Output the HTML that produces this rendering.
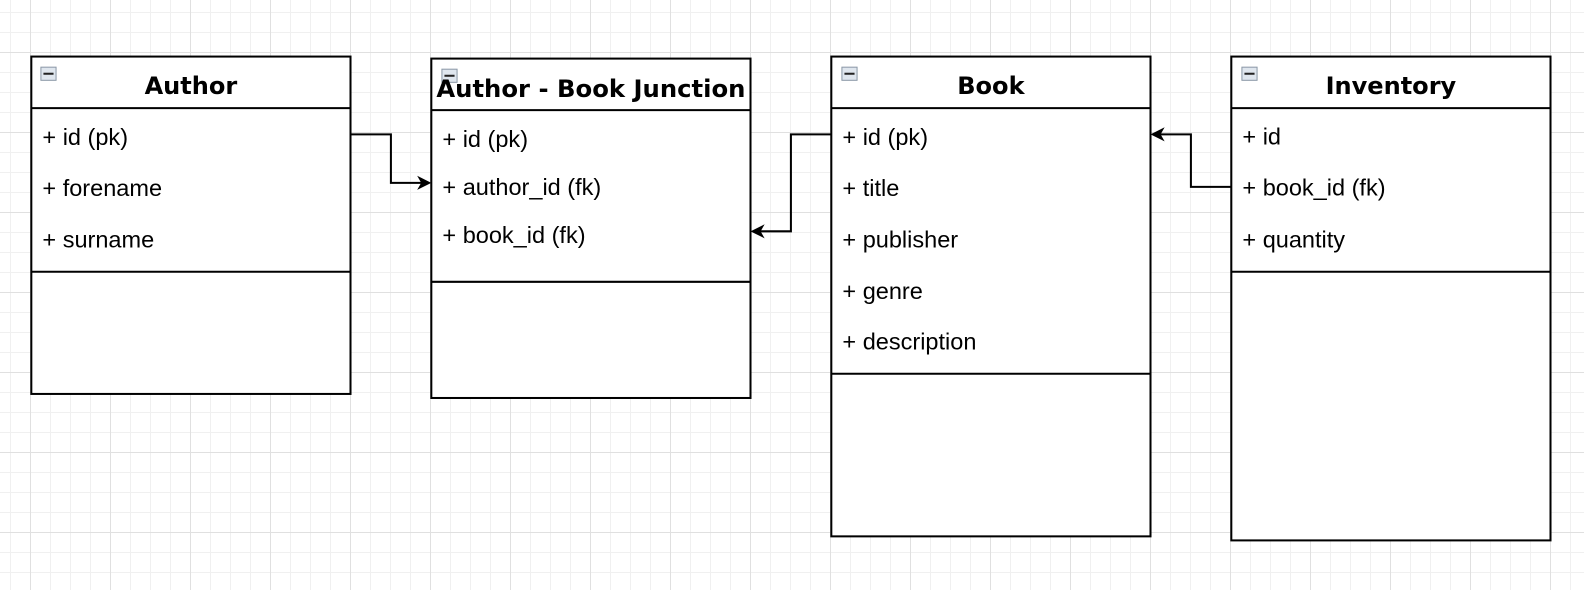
<!DOCTYPE html>
<html><head><meta charset="utf-8"><style>html,body{margin:0;padding:0;background:#fff}svg{display:block}</style></head>
<body>
<svg width="1584" height="590" xmlns="http://www.w3.org/2000/svg">
<defs>
<pattern id="minor" width="20" height="20" patternUnits="userSpaceOnUse" x="10" y="12">
<path d="M0 0.5H20M0.5 0V20" stroke="#f0f0f0" stroke-width="1" fill="none"/></pattern>
<pattern id="major" width="80" height="80" patternUnits="userSpaceOnUse" x="30" y="52">
<path d="M0 0.5H80M0.5 0V80" stroke="#e0e0e0" stroke-width="1" fill="none"/></pattern>
<g id="ic"><rect x="0.5" y="0.5" width="15" height="13" fill="#dfe6ee" stroke="#8a97a6"/><rect x="3" y="6" width="10" height="2" fill="#222"/></g>
</defs>
<rect width="1584" height="590" fill="url(#minor)"/>
<rect width="1584" height="590" fill="url(#major)"/>
<g transform="scale(1.0101)">
<g fill="#fff" stroke="#000" stroke-width="2">
<rect x="31" y="56" width="316" height="334"/>
<rect x="427" y="58" width="316" height="336"/>
<rect x="823" y="56" width="316" height="475"/>
<rect x="1219" y="56" width="316" height="479"/>
</g>
<g stroke="#000" stroke-width="2">
<line x1="31" y1="107" x2="347" y2="107"/><line x1="31" y1="269" x2="347" y2="269"/>
<line x1="427" y1="109" x2="743" y2="109"/><line x1="427" y1="279" x2="743" y2="279"/>
<line x1="823" y1="107" x2="1139" y2="107"/><line x1="823" y1="370" x2="1139" y2="370"/>
<line x1="1219" y1="107" x2="1535" y2="107"/><line x1="1219" y1="269" x2="1535" y2="269"/>
</g>
<use href="#ic" x="40" y="66"/><use href="#ic" x="437" y="68"/><use href="#ic" x="833" y="66"/><use href="#ic" x="1229" y="66"/>
<g font-family="DejaVu Sans, sans-serif" font-weight="bold" font-size="23.8" text-anchor="middle" fill="#000">
<text x="189" y="93">Author</text>
<text x="585" y="96" textLength="306" lengthAdjust="spacingAndGlyphs">Author - Book Junction</text>
<text x="981" y="93">Book</text>
<text x="1377" y="93">Inventory</text>
</g>
<g font-family="Liberation Sans, Arial, sans-serif" font-size="23.3" fill="#000">
<text x="42" y="143.5">+ id (pk)</text><text x="42" y="194">+ forename</text><text x="42" y="245">+ surname</text>
<text x="438" y="145.5">+ id (pk)</text><text x="438" y="193">+ author_id (fk)</text><text x="438" y="240.5">+ book_id (fk)</text>
<text x="834" y="143.5">+ id (pk)</text><text x="834" y="194">+ title</text><text x="834" y="245">+ publisher</text><text x="834" y="296">+ genre</text><text x="834" y="346">+ description</text>
<text x="1230" y="143">+ id</text><text x="1230" y="193.5">+ book_id (fk)</text><text x="1230" y="245">+ quantity</text>
</g>
<g fill="none" stroke="#000" stroke-width="2">
<polyline points="347,133 387,133 387,181 418,181"/>
<polyline points="823,133 783,133 783,229 752,229"/>
<polyline points="1219,185 1179,185 1179,133 1148,133"/>
</g>
<g fill="#000">
<path d="M427,181 L413,174 L417,181 L413,188 Z"/>
<path d="M743,229 L757,222 L753,229 L757,236 Z"/>
<path d="M1139,133 L1153,126 L1149,133 L1153,140 Z"/>
</g>
</g>
</svg>
</body></html>
